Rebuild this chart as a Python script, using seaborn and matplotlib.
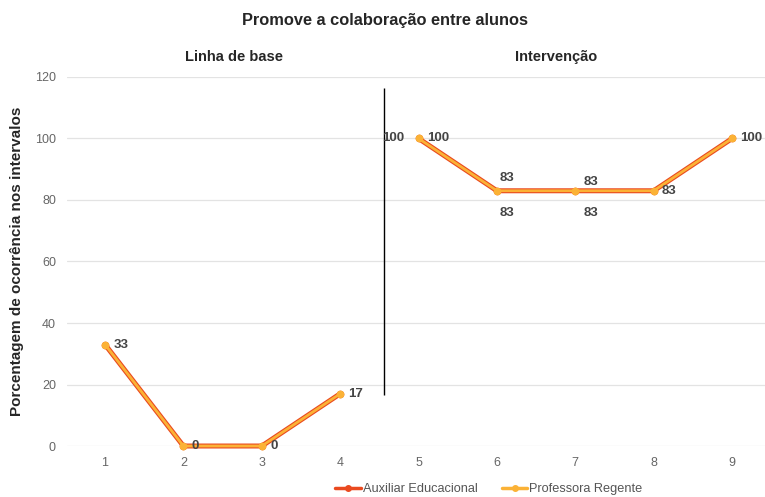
import pandas as pd
import matplotlib
matplotlib.use("Agg")
import matplotlib.pyplot as plt
import seaborn as sns

# dados
sessoes = [1, 2, 3, 4, 5, 6, 7, 8, 9]
fases = ["Linha de base"] * 4 + ["Intervenção"] * 5
auxiliar = [33, 0, 0, 17, 100, 83, 83, 83, 100]
professora = [33, 0, 0, 17, 100, 83, 83, 83, 100]
y_ticks = [0, 20, 40, 60, 80, 100, 120]

df = pd.concat([
    pd.DataFrame({"sessao": sessoes, "valor": auxiliar, "fase": fases, "serie": "Auxiliar Educacional"}),
    pd.DataFrame({"sessao": sessoes, "valor": professora, "fase": fases, "serie": "Professora Regente"}),
])

sns.set_style("white")
plt.rcParams["font.family"] = ["Liberation Sans", "DejaVu Sans"]

RED = "#ea4a1f"
YEL = "#fbb236"

fig = plt.figure(figsize=(7.65, 4.97), dpi=100)
ax = fig.add_axes([0.0876, 0.1026, 0.9124, 0.7425])

sub = df[df.serie == "Auxiliar Educacional"]
sns.lineplot(data=sub, x="sessao", y="valor", units="fase", estimator=None,
             color=RED, lw=3.6, marker="o", ms=5.5, mew=0, ax=ax, clip_on=False,
             solid_capstyle="round")
sub = df[df.serie == "Professora Regente"]
sns.lineplot(data=sub, x="sessao", y="valor", units="fase", estimator=None,
             color=YEL, lw=2.0, marker="o", ms=5.6, mew=0, ax=ax, clip_on=False,
             solid_capstyle="round")

# rotulos de dados (deslocamentos em pontos)
off_aux = [(6, 0), (6, 0), (6, 0), (6, 0), (-10, 0), (7, -16), (11, -16), (6, 0), (6, 0)]
ha_aux = ["left"] * 4 + ["right", "center", "center", "left", "left"]
for x, v, o, h in zip(sessoes, auxiliar, off_aux, ha_aux):
    ax.annotate(str(v), (x, v), xytext=o, textcoords="offset points", ha=h, va="center",
                fontsize=9.5, fontweight="bold", color="#444444", annotation_clip=False)
off_prof = {5: (6, 0), 6: (7, 9), 7: (11, 6)}
ha_prof = {5: "left", 6: "center", 7: "center"}
for x, v in zip(sessoes, professora):
    if x in off_prof:
        ax.annotate(str(v), (x, v), xytext=off_prof[x], textcoords="offset points",
                    ha=ha_prof[x], va="center", fontsize=9.5, fontweight="bold",
                    color="#444444")

# linha de separacao das fases
ax.vlines(4.56, 16.5, 116.5, color="black", lw=1.0)

ax.set_xlim(0.515, 9.42)
ax.set_ylim(0, 120)
ax.set_xticks(sessoes)
ax.set_yticks(y_ticks)
ax.tick_params(axis="both", length=0, labelsize=9, labelcolor="#666666", pad=8)
ax.grid(axis="y", color="#e3e3e3", lw=0.9)
ax.set_axisbelow(True)
for s in ax.spines.values():
    s.set_visible(False)
ax.set_xlabel("")
ax.set_ylabel("Porcentagem de ocorrência nos intervalos", fontsize=11, fontweight="bold", labelpad=8)

fig.text(385 / 765, 1 - 20 / 497, "Promove a colaboração entre alunos", ha="center", va="center",
         fontsize=11.8, fontweight="bold")
fig.text(234 / 765, 1 - 57 / 497, "Linha de base", ha="center", va="center", fontsize=10.5, fontweight="bold")
fig.text(556 / 765, 1 - 57 / 497, "Intervenção", ha="center", va="center", fontsize=10.5, fontweight="bold")

handles = [
    plt.Line2D([], [], color=RED, lw=2.5, marker="o", ms=4),
    plt.Line2D([], [], color=YEL, lw=2.5, marker="o", ms=4),
]
fig.legend(handles, ["Auxiliar Educacional", "Professora Regente"], loc="center",
           bbox_to_anchor=(489 / 765, 8 / 497), ncol=2, frameon=False, fontsize=9.2,
           handlelength=2.0, handletextpad=0.15, columnspacing=1.9, labelcolor="#555555")

fig.savefig("out.png", dpi=100)
